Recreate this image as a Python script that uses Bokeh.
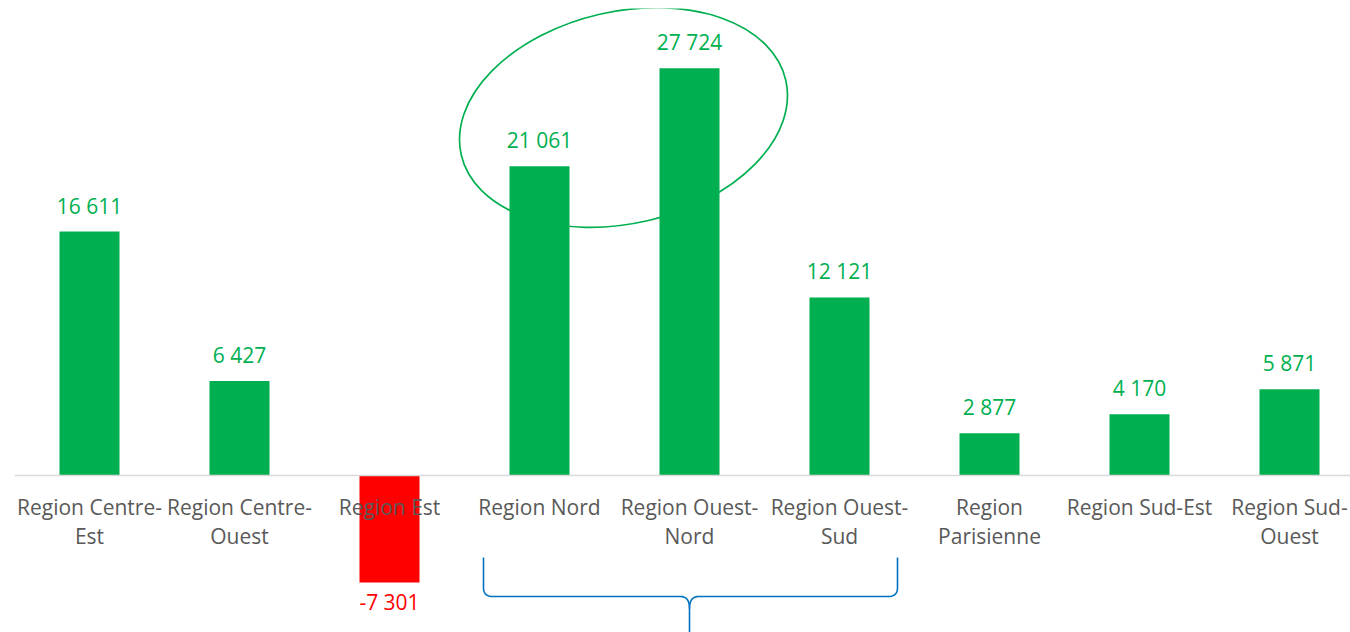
import numpy as np
from bokeh.plotting import figure
from bokeh.models import ColumnDataSource, Span, Range1d
from bokeh.core.properties import value
from bokeh.embed import file_html
from bokeh.resources import INLINE

# ---- data ----
categories = ["Region Centre-\nEst", "Region Centre-\nOuest", "Region Est", "Region Nord",
              "Region Ouest-\nNord", "Region Ouest-\nSud", "Region\nParisienne",
              "Region Sud-Est", "Region Sud-\nOuest"]
values = [16611, 6427, -7301, 21061, 27724, 12121, 2877, 4170, 5871]

# ---- style / layout ----
GREEN = "#00B050"
RED = "#FF0000"
GREY = "#595959"
FONT = value("Open Sans")
FSIZE = "21px"
W, H = 1350, 632
LEFT = 14
TOP = 8
CAT_PX = 150
FRAME_H = H - TOP
Y_TOP, Y_BOT = 31800, -10700
PPU = FRAME_H / (Y_TOP - Y_BOT)

def px2x(px):
    # image px -> data x
    return -0.5 + (px - LEFT) / CAT_PX

def py2y(py):
    return Y_TOP - (py - TOP) / PPU

xs = list(range(len(categories)))
colors = [GREEN if v >= 0 else RED for v in values]
labels = [("-" if v < 0 else "") + f"{abs(v):,}".replace(",", " ") for v in values]
offs = [-26 if v >= 0 else 19 for v in values]
line1 = [c.split("\n")[0] for c in categories]
line2 = [c.split("\n")[1] if "\n" in c else "" for c in categories]

src = ColumnDataSource(dict(x=xs, top=values, color=colors, label=labels, off=offs,
                            l1=line1, l2=line2, zero=[0] * len(xs)))

p = figure(width=W, height=H, output_backend="svg", toolbar_location=None,
           x_range=Range1d(-0.5, -0.5 + (W - LEFT) / CAT_PX),
           y_range=Range1d(Y_BOT, Y_TOP),
           x_axis_type=None, y_axis_type=None,
           min_border_left=LEFT, min_border_right=0, min_border_top=TOP, min_border_bottom=0)
p.outline_line_color = None
p.xgrid.visible = False
p.ygrid.visible = False
p.background_fill_color = "white"
p.border_fill_color = "white"

# ellipse highlight (behind bars)
p.ellipse(x=[px2x(623)], y=[py2y(117)], width=333, height=212, angle=np.radians(13),
          width_units="screen", height_units="screen",
          fill_color=None, line_color=GREEN, line_width=1.7)

p.vbar(x="x", top="top", bottom=0, width=0.4, fill_color="color", line_color=None, source=src)

p.add_layout(Span(location=0, dimension="width", line_color="#D9D9D9", line_width=1.5))

p.text(x="x", y="top", text="label", y_offset="off", text_color="color",
       text_font=FONT, text_font_size=FSIZE, text_align="center", text_baseline="middle",
       source=src)
p.text(x="x", y="zero", text="l1", y_offset=32, text_color=GREY,
       text_font=FONT, text_font_size=FSIZE, text_align="center", text_baseline="middle",
       source=src)
p.text(x="x", y="zero", text="l2", y_offset=61, text_color=GREY,
       text_font=FONT, text_font_size=FSIZE, text_align="center", text_baseline="middle",
       source=src)

# curly brace under Nord .. Ouest-Sud
def quad(p0, p1, p2, n=12):
    t = np.linspace(0, 1, n)
    return [((1 - s) ** 2 * p0[0] + 2 * (1 - s) * s * p1[0] + s ** 2 * p2[0],
             (1 - s) ** 2 * p0[1] + 2 * (1 - s) * s * p1[1] + s ** 2 * p2[1]) for s in t]

L, R, C = 483, 897, 689
top, mid, tip = 557, 596, 608
pts = [(L, top), (L, mid - 9)]
pts += quad((L, mid - 9), (L, mid), (L + 9, mid))
pts += [(C - 9, mid)]
pts += quad((C - 9, mid), (C, mid), (C, tip))
pts += [(C, 640)]
pts2 = [(R, top), (R, mid - 9)]
pts2 += quad((R, mid - 9), (R, mid), (R - 9, mid))
pts2 += [(C + 9, mid)]
pts2 += quad((C + 9, mid), (C, mid), (C, tip))
for seg in (pts, pts2):
    p.line([px2x(a) for a, b in seg], [py2y(b) for a, b in seg], line_color="#0070C0", line_width=1.6)

open("out.html", "w").write(file_html(p, INLINE))
